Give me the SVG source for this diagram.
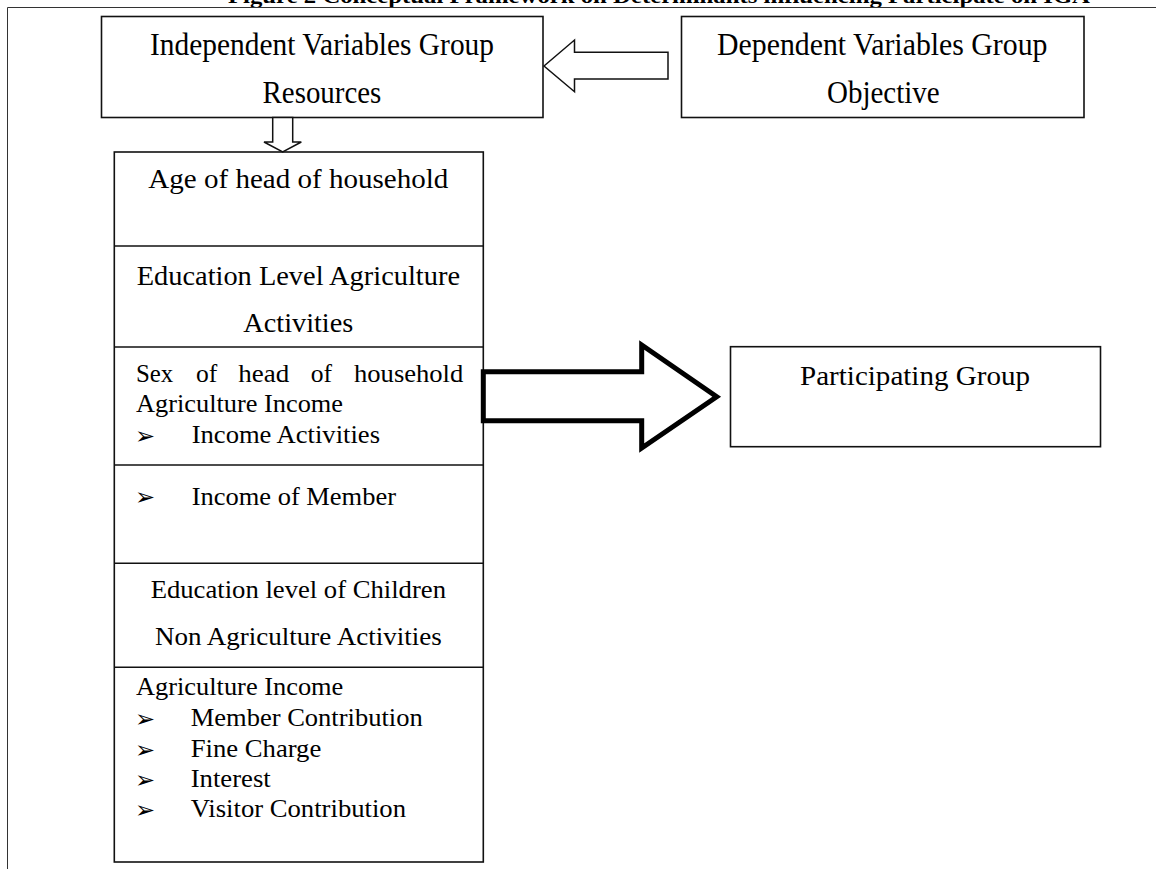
<svg xmlns="http://www.w3.org/2000/svg" width="1156" height="869" viewBox="0 0 1156 869">
<style>
.t{font-family:"Liberation Serif","Times New Roman",serif;fill:#000}
.top{font-size:31px}
.hd{font-size:27px}
.ls{font-size:25px}
.bul{font-family:"DejaVu Sans",sans-serif;font-size:24px;fill:#000}
.box{fill:#fff;stroke:#111;stroke-width:1.6}
.div{stroke:#111;stroke-width:1.6}
.thin{fill:none;stroke:#333;stroke-width:1}
.arr{fill:#fff;stroke:#111;stroke-width:1.5;stroke-linejoin:miter}
.big{fill:#fff;stroke:#000;stroke-width:5;stroke-linejoin:miter}
</style>
<rect width="1156" height="869" fill="#fff"/>
<text class="t" x="659" y="3" text-anchor="middle" font-size="22" font-weight="bold" textLength="862" lengthAdjust="spacingAndGlyphs">Figure 2 Conceptual Framework on Determinants influencing Participate on IGA</text>
<path class="thin" d="M7.5 869V7.5H1156"/>

<g id="independent">
<rect class="box" x="101.5" y="16.5" width="441.5" height="101"/>
<text class="t top" x="150" y="55" textLength="344" lengthAdjust="spacingAndGlyphs">Independent Variables Group</text>
<text class="t top" x="262.6" y="103" textLength="118.7" lengthAdjust="spacingAndGlyphs">Resources</text>
</g>

<g id="dependent">
<rect class="box" x="681.5" y="16.5" width="402.5" height="101"/>
<text class="t top" x="717" y="55" textLength="330.5" lengthAdjust="spacingAndGlyphs">Dependent Variables Group</text>
<text class="t top" x="827" y="103" textLength="112.7" lengthAdjust="spacingAndGlyphs">Objective</text>
</g>

<g id="factors">
<rect class="box" x="114.3" y="152" width="369" height="710"/>
<line class="div" x1="114.3" y1="246" x2="483.3" y2="246"/>
<line class="div" x1="114.3" y1="347" x2="483.3" y2="347"/>
<line class="div" x1="114.3" y1="465" x2="483.3" y2="465"/>
<line class="div" x1="114.3" y1="563.3" x2="483.3" y2="563.3"/>
<line class="div" x1="114.3" y1="667.3" x2="483.3" y2="667.3"/>

<text class="t hd" x="148.3" y="188.3" textLength="300" lengthAdjust="spacingAndGlyphs">Age of head of household</text>
<text class="t hd" x="136.7" y="285" textLength="323.3" lengthAdjust="spacingAndGlyphs">Education Level Agriculture</text>
<text class="t hd" x="243.3" y="331.7" textLength="110" lengthAdjust="spacingAndGlyphs">Activities</text>

<text class="t ls" x="136" y="381.7" textLength="37.3" lengthAdjust="spacingAndGlyphs">Sex</text>
<text class="t ls" x="196" y="381.7" textLength="21.3" lengthAdjust="spacingAndGlyphs">of</text>
<text class="t ls" x="238.3" y="381.7" textLength="51" lengthAdjust="spacingAndGlyphs">head</text>
<text class="t ls" x="310.7" y="381.7" textLength="21.3" lengthAdjust="spacingAndGlyphs">of</text>
<text class="t ls" x="354" y="381.7" textLength="109.3" lengthAdjust="spacingAndGlyphs">household</text>
<text class="t ls" x="136" y="411.7" textLength="207" lengthAdjust="spacingAndGlyphs">Agriculture Income</text>
<text class="bul" x="135" y="444">➢</text>
<text class="t ls" x="191.7" y="443.3" textLength="188.3" lengthAdjust="spacingAndGlyphs">Income Activities</text>

<text class="bul" x="135" y="505">➢</text>
<text class="t ls" x="191.7" y="505" textLength="204.3" lengthAdjust="spacingAndGlyphs">Income of Member</text>

<text class="t ls" x="150.7" y="598.3" textLength="295.3" lengthAdjust="spacingAndGlyphs">Education level of Children</text>
<text class="t ls" x="155" y="645" textLength="286.7" lengthAdjust="spacingAndGlyphs">Non Agriculture Activities</text>

<text class="t ls" x="136" y="695" textLength="207.3" lengthAdjust="spacingAndGlyphs">Agriculture Income</text>
<text class="bul" x="135" y="727">➢</text>
<text class="t ls" x="190.7" y="726" textLength="232" lengthAdjust="spacingAndGlyphs">Member Contribution</text>
<text class="bul" x="135" y="757.5">➢</text>
<text class="t ls" x="190.7" y="756.7" textLength="130.6" lengthAdjust="spacingAndGlyphs">Fine Charge</text>
<text class="bul" x="135" y="788">➢</text>
<text class="t ls" x="190.7" y="787.3" textLength="80" lengthAdjust="spacingAndGlyphs">Interest</text>
<text class="bul" x="135" y="818">➢</text>
<text class="t ls" x="190.7" y="817.3" textLength="215.3" lengthAdjust="spacingAndGlyphs">Visitor Contribution</text>
</g>

<g id="participating">
<rect class="box" x="730.5" y="346.7" width="370" height="100"/>
<text class="t hd" x="800" y="385" textLength="230" lengthAdjust="spacingAndGlyphs">Participating Group</text>
</g>

<g id="connectors">
<polygon class="arr" points="544,66 574.5,40 574.5,52.3 668,52.3 668,79 574.5,79 574.5,91.7"/>
<polygon class="arr" points="272.7,117.5 292.7,117.5 292.7,142 301.3,142 282.7,152 264,142 272.7,142"/>
<polygon class="big" points="483.3,371.7 641.7,371.7 641.7,345 716.7,396.7 641.7,448 641.7,420.7 483.3,420.7"/>
</g>
</svg>
